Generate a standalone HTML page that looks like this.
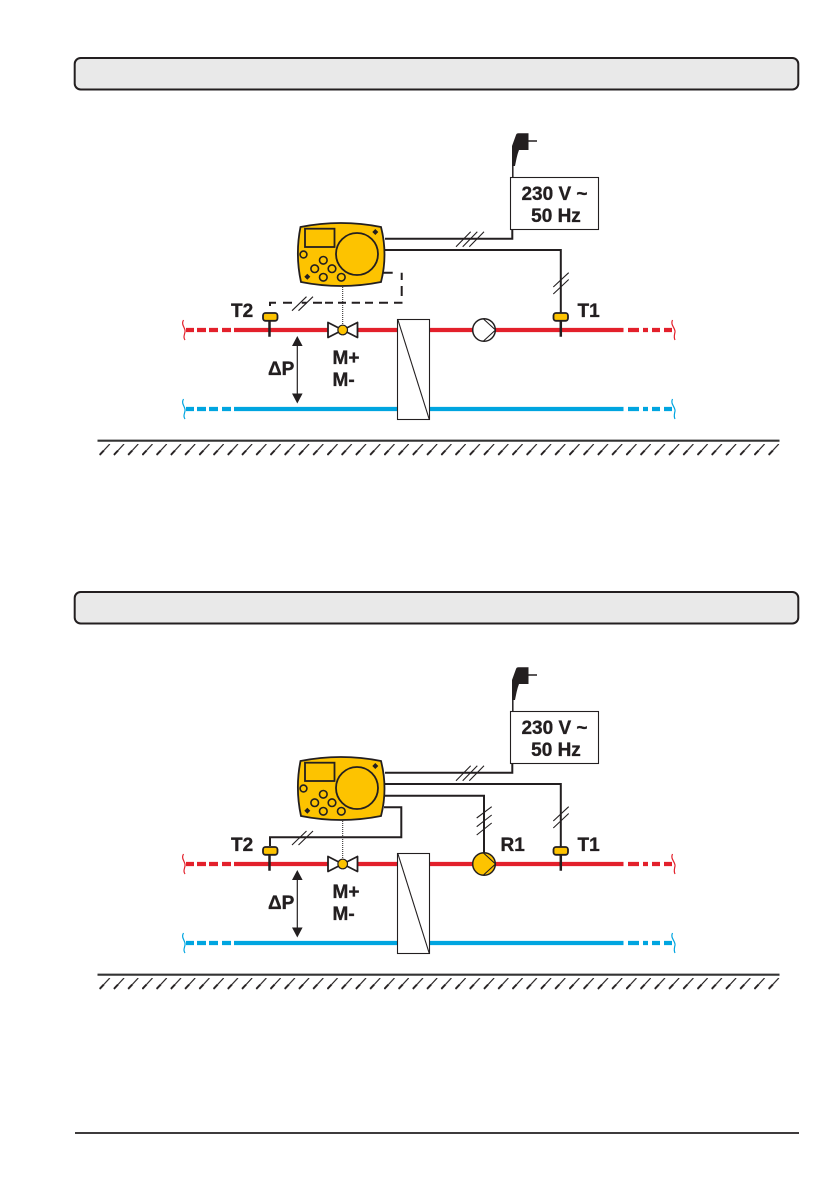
<!DOCTYPE html>
<html>
<head>
<meta charset="utf-8">
<style>
html,body{margin:0;padding:0;background:#fff;}
svg{display:block;}
text{font-family:"Liberation Sans",sans-serif;font-weight:bold;font-size:19px;fill:#231f20;stroke:#231f20;stroke-width:0.35px;}
</style>
</head>
<body>
<svg width="839" height="1191" viewBox="0 0 839 1191" xmlns="http://www.w3.org/2000/svg">
<defs>
<pattern id="h" x="99.3" y="444" width="14.234" height="12" patternUnits="userSpaceOnUse">
<path d="M0.3,11 L4.500,6.500" stroke="#231f20" stroke-width="2" fill="none"/>
<path d="M4.500,6.500 L10.500,0" stroke="#231f20" stroke-width="1.200" fill="none"/>
</pattern>
<g id="controller">
<path d="M300.5,227 Q341,219 381,227 Q388,254.500 381,282 Q341,290 301,282 Q295,254.500 300.500,227 Z" fill="#fdc300" stroke="#231f20" stroke-width="1.800"/>
<rect x="305" y="228.700" width="29.500" height="18.300" fill="#fdc300" stroke="#231f20" stroke-width="1.800"/>
<circle cx="357" cy="254" r="21" fill="#fdc300" stroke="#231f20" stroke-width="1.800"/>
<g fill="#fdc300" stroke="#231f20" stroke-width="1.600">
<circle cx="303.500" cy="254.500" r="3.400"/>
<circle cx="323.300" cy="260.300" r="3.800"/>
<circle cx="314.700" cy="268.700" r="3.800"/>
<circle cx="332" cy="268.700" r="3.800"/>
<circle cx="323.300" cy="277.300" r="3.800"/>
<circle cx="341.300" cy="277.300" r="3.800"/>
</g>
<path d="M375.300,229 L378.300,232 L375.300,235 L372.300,232 Z M307.300,273.700 L310.300,276.700 L307.300,279.700 L304.300,276.700 Z" fill="#231f20"/>
</g>
<g id="common">
<!-- pipes -->
<g stroke="#e3202b" stroke-width="4.200" fill="none">
<path d="M186,330H194M197,330H206M209,330H218M222,330H231M234,330H397M430,330H623.500M628,330H639M643,330H648M652,330H660M664,330H672"/>
</g>
<g stroke="#00a5e0" stroke-width="4.200" fill="none">
<path d="M186,409H194M197,409H206M209,409H218M222,409H231M234,409H397M430,409H623.500M628,409H639M643,409H648M652,409H660M664,409H672"/>
</g>
<path d="M183.500,320 C180.500,325 186,328 185,332 C184.500,335 183,337 185,340" fill="none" stroke="#e3202b" stroke-width="1.200"/>
<path d="M672.500,320 C670,325 675.500,328 675,332 C674.500,335 673.500,337 675,340" fill="none" stroke="#e3202b" stroke-width="1.200"/>
<path d="M183.500,399 C180.500,404 186,407 185,411 C184.500,414 183,416 185,419" fill="none" stroke="#00a5e0" stroke-width="1.200"/>
<path d="M672.500,399 C670,404 675.500,407 675,411 C674.500,414 673.500,416 675,419" fill="none" stroke="#00a5e0" stroke-width="1.200"/>
<!-- exchanger -->
<rect x="397.500" y="319.500" width="32" height="100" fill="#fff" stroke="#231f20" stroke-width="1.100"/>
<path d="M397.800,319.500 L429.300,419.500" stroke="#231f20" stroke-width="1.100" fill="none"/>
<!-- valve -->
<path d="M342.700,330 L328,322.500 V337.500 Z M342.700,330 L357.500,322.500 V337.500 Z" fill="#fff" stroke="#231f20" stroke-width="1.800" stroke-linejoin="round"/>
<circle cx="342.700" cy="330" r="4.800" fill="#fdc300" stroke="#231f20" stroke-width="1.200"/>
<path d="M342.700,287 V325" stroke="#231f20" stroke-width="1" stroke-dasharray="1 1" fill="none"/>
<!-- sensors -->
<path d="M269.500,320 V336.700 M560.800,320 V336.700" stroke="#231f20" stroke-width="2.500" fill="none"/>
<rect x="263" y="313" width="14.500" height="7.800" rx="2.500" fill="#fdc300" stroke="#231f20" stroke-width="1.800"/>
<rect x="553.500" y="313" width="14.500" height="7.800" rx="2.500" fill="#fdc300" stroke="#231f20" stroke-width="1.800"/>
<!-- dP arrow -->
<path d="M297.300,344 V396" stroke="#231f20" stroke-width="1.200"/>
<path d="M297.300,336 L302.600,346 H292 Z M297.300,403.500 L302.600,393.500 H292 Z" fill="#231f20"/>
<!-- mains wires -->
<path d="M385,238.700 H512.300 V229" fill="none" stroke="#231f20" stroke-width="2"/>
<path d="M385,250 H560.800 V313" fill="none" stroke="#231f20" stroke-width="2"/>
<path d="M456,246.700 L470.700,231.700 M462.700,246.700 L477.300,231.700 M469.300,246.700 L484,231.700" stroke="#231f20" stroke-width="1.100" fill="none"/>
<path d="M553.300,287 L568.700,272.700 M553.300,294 L568.700,279.500" stroke="#231f20" stroke-width="1.100" fill="none"/>
<!-- plug -->
<path d="M516,135 Q516.500,133.300 518.500,133.300 H528.500 V150 H519 C517,155 516,161 515,166 H512 V146 Z" fill="#231f20"/>
<path d="M528,141 H537" stroke="#231f20" stroke-width="1.500"/>
<path d="M512.800,165 V178" stroke="#231f20" stroke-width="1.500"/>
<!-- power box -->
<rect x="510.500" y="177.500" width="88" height="52" fill="#fff" stroke="#231f20" stroke-width="1.100"/>
<!-- ground -->
<path d="M97.500,440.700 H779.500" stroke="#333" stroke-width="2.200"/>
<rect x="97.500" y="444" width="682" height="12" fill="url(#h)"/>
</g>
</defs>

<!-- Header bars -->
<rect x="74.700" y="58" width="723.600" height="31.500" rx="6" ry="6" fill="#e9e9e9" stroke="#231f20" stroke-width="2"/>
<rect x="74.700" y="592" width="723.600" height="31.500" rx="6" ry="6" fill="#e9e9e9" stroke="#231f20" stroke-width="2"/>

<!-- Diagram 1 -->
<use href="#common"/>
<use href="#controller"/>
<path d="M383.500,272.700 H392.700 M401.700,272.700 V280 M401.700,286 V296 M402.500,302.700 H394 M388,302.700 H379 M373,302.700 H365 M360,302.700 H351.700 M346,302.700 H338 M333,302.700 H325 M322,302.700 H313 M306.700,302.700 H301.700 M292,302.700 H283 M276,302.700 H270 V306" fill="none" stroke="#231f20" stroke-width="2"/>
<path d="M292,310.700 L306.500,296.700 M298.500,310.700 L313,296.700" stroke="#231f20" stroke-width="1.100" fill="none"/>
<circle cx="484" cy="330" r="11.300" fill="#fff" stroke="#231f20" stroke-width="1.500"/>
<path d="M483.500,319 L495.500,330 L483.500,341" fill="none" stroke="#231f20" stroke-width="1.100"/>
<text x="231" y="317">T2</text>
<text x="577.500" y="317">T1</text>
<text x="332.500" y="364">M+</text>
<text x="332.500" y="386">M-</text>
<text x="268" y="375"><tspan font-size="19">Δ</tspan>P</text>
<text x="554.500" y="200" text-anchor="middle">230 V ~</text>
<text x="556" y="222" text-anchor="middle">50 Hz</text>

<!-- Diagram 2 -->
<use href="#common" y="534"/>
<use href="#controller" y="534"/>
<path d="M384,807.300 H401.300 V837.300 H270 V846" fill="none" stroke="#231f20" stroke-width="2"/>
<path d="M292,845 L306.500,831 M298.500,845 L313,831" stroke="#231f20" stroke-width="1.100" fill="none"/>
<path d="M385,795.700 H484 V853" fill="none" stroke="#231f20" stroke-width="2"/>
<path d="M476.700,818 L491.700,806.700 M476.700,826.700 L491.700,815 M476.700,835 L491.700,823" stroke="#231f20" stroke-width="1.100" fill="none"/>
<circle cx="484" cy="864" r="11.300" fill="#fdc300" stroke="#231f20" stroke-width="1.500"/>
<path d="M483.500,853 L495.500,864 L483.500,875" fill="none" stroke="#231f20" stroke-width="1.100"/>
<text x="500.500" y="851">R1</text>
<text x="231" y="851">T2</text>
<text x="577.500" y="851">T1</text>
<text x="332.500" y="898">M+</text>
<text x="332.500" y="920">M-</text>
<text x="268" y="909"><tspan font-size="19">Δ</tspan>P</text>
<text x="554.500" y="734" text-anchor="middle">230 V ~</text>
<text x="556" y="756" text-anchor="middle">50 Hz</text>

<!-- Footer line -->
<path d="M75,1133 H799" stroke="#231f20" stroke-width="1.800"/>
</svg>
</body>
</html>
